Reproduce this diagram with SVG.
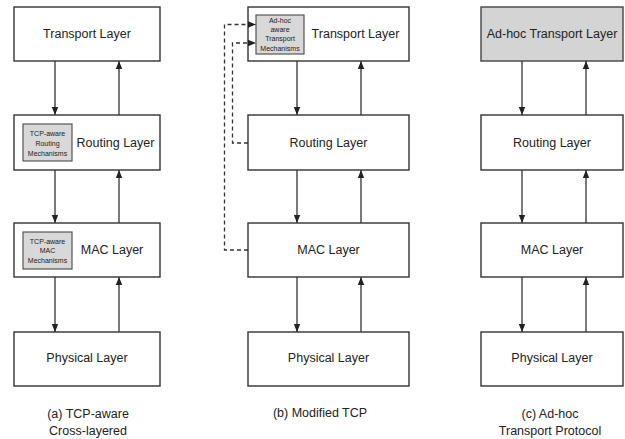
<svg xmlns="http://www.w3.org/2000/svg" width="625" height="439" viewBox="0 0 625 439">
<defs>
<marker id="ah" viewBox="0 0 8 8" refX="8" refY="4" markerWidth="8" markerHeight="8" markerUnits="userSpaceOnUse" orient="auto">
<path d="M0,0.8 L8,4 L0,7.2 Z" fill="#222"/>
</marker>
<style>
.box{fill:#fff;stroke:#333;stroke-width:1.4}
.gbox{fill:#d4d4d4;stroke:#444;stroke-width:1.4}
.ibox{fill:#d8d8d8;stroke:#555;stroke-width:1.2}
.t{font-family:"Liberation Sans",Arial,sans-serif;font-size:12.5px;fill:#222;text-anchor:middle;dominant-baseline:central}
.s{font-family:"Liberation Sans",Arial,sans-serif;font-size:7px;fill:#222;text-anchor:middle;dominant-baseline:central}
.c{stroke:#333;stroke-width:1.3;fill:none;marker-end:url(#ah)}
.d{stroke:#333;stroke-width:1.3;fill:none;stroke-dasharray:4,3;marker-end:url(#ah)}
</style>
</defs>
<rect width="625" height="439" fill="#fff"/>

<!-- Column a -->
<g id="a-transport"><rect class="box" x="14" y="7" width="146" height="54"/><text class="t" x="87" y="34">Transport Layer</text></g>
<g id="a-routing"><rect class="box" x="14" y="115" width="146" height="55"/>
<rect class="ibox" x="23" y="124" width="49" height="37"/>
<text class="s" x="47.5" y="133">TCP-aware</text><text class="s" x="47.5" y="143">Routing</text><text class="s" x="47.5" y="153">Mechanisms</text>
<text class="t" x="115.5" y="143">Routing Layer</text></g>
<g id="a-mac"><rect class="box" x="14" y="223" width="146" height="54"/>
<rect class="ibox" x="23" y="232" width="49" height="37"/>
<text class="s" x="47.5" y="241">TCP-aware</text><text class="s" x="47.5" y="250.5">MAC</text><text class="s" x="47.5" y="260">Mechanisms</text>
<text class="t" x="112" y="250">MAC Layer</text></g>
<g id="a-physical"><rect class="box" x="14" y="332" width="146" height="54"/><text class="t" x="87" y="358">Physical Layer</text></g>
<g id="a-caption"><text class="t" x="88" y="414">(a) TCP-aware</text><text class="t" x="88" y="431">Cross-layered</text></g>

<!-- Column b -->
<g id="b-transport"><rect class="box" x="248" y="7" width="161" height="54"/>
<rect class="ibox" x="256" y="15" width="48" height="39"/>
<text class="s" x="280" y="20">Ad-hoc</text><text class="s" x="280" y="29">aware</text><text class="s" x="280" y="38.5">Transport</text><text class="s" x="280" y="48.5">Mechanisms</text>
<text class="t" x="355.5" y="34">Transport Layer</text></g>
<g id="b-routing"><rect class="box" x="248" y="115" width="161" height="55"/><text class="t" x="328.5" y="143">Routing Layer</text></g>
<g id="b-mac"><rect class="box" x="248" y="223" width="161" height="54"/><text class="t" x="328.5" y="250">MAC Layer</text></g>
<g id="b-physical"><rect class="box" x="248" y="332" width="161" height="54"/><text class="t" x="328.5" y="358">Physical Layer</text></g>
<g id="b-caption"><text class="t" x="320" y="413">(b) Modified TCP</text></g>

<!-- Column c -->
<g id="c-transport"><rect class="gbox" x="481" y="7" width="142" height="54"/><text class="t" x="552" y="34">Ad-hoc Transport Layer</text></g>
<g id="c-routing"><rect class="box" x="481" y="115" width="142" height="55"/><text class="t" x="552" y="143">Routing Layer</text></g>
<g id="c-mac"><rect class="box" x="481" y="223" width="142" height="54"/><text class="t" x="552" y="250">MAC Layer</text></g>
<g id="c-physical"><rect class="box" x="481" y="332" width="142" height="54"/><text class="t" x="552" y="358">Physical Layer</text></g>
<g id="c-caption"><text class="t" x="550" y="414">(c) Ad-hoc</text><text class="t" x="550" y="431">Transport Protocol</text></g>

<g id="connectors">
<!-- a -->
<line class="c" x1="55" y1="61" x2="55" y2="115"/>
<line class="c" x1="119" y1="115" x2="119" y2="61"/>
<line class="c" x1="55" y1="170" x2="55" y2="223"/>
<line class="c" x1="119" y1="223" x2="119" y2="170"/>
<line class="c" x1="55" y1="277" x2="55" y2="332"/>
<line class="c" x1="119" y1="332" x2="119" y2="277"/>
<!-- b -->
<line class="c" x1="297" y1="61" x2="297" y2="115"/>
<line class="c" x1="361" y1="115" x2="361" y2="61"/>
<line class="c" x1="297" y1="170" x2="297" y2="223"/>
<line class="c" x1="361" y1="223" x2="361" y2="170"/>
<line class="c" x1="297" y1="277" x2="297" y2="332"/>
<line class="c" x1="361" y1="332" x2="361" y2="277"/>
<path class="d" d="M248,250 H224.5 V24.5 H256"/>
<path class="d" d="M248,143 H232.5 V43 H256"/>
<!-- c -->
<line class="c" x1="522" y1="61" x2="522" y2="115"/>
<line class="c" x1="586" y1="115" x2="586" y2="61"/>
<line class="c" x1="522" y1="170" x2="522" y2="223"/>
<line class="c" x1="586" y1="223" x2="586" y2="170"/>
<line class="c" x1="522" y1="277" x2="522" y2="332"/>
<line class="c" x1="586" y1="332" x2="586" y2="277"/>
</g>
</svg>
